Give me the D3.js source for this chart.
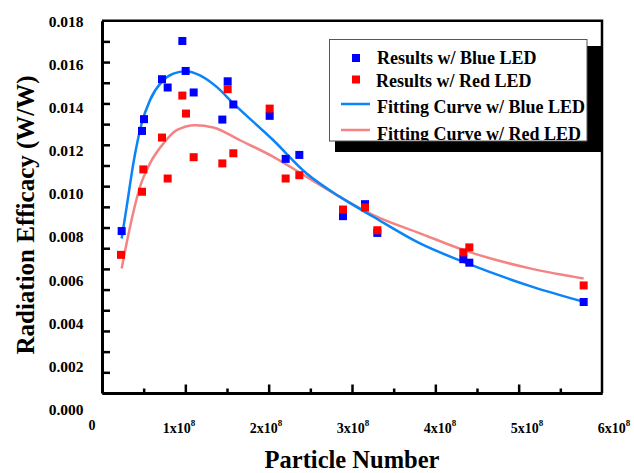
<!DOCTYPE html>
<html>
<head>
<meta charset="utf-8">
<script src="https://cdn.jsdelivr.net/npm/d3@7"></script>
<style>
    body { margin: 0; background: #fff; }
    text { font-family: "Liberation Serif", "Times New Roman", serif; font-weight: bold; fill: #000; }
</style>
</head>
<body>
<svg id="chart" width="634" height="473"></svg>
<script>
// Measured points (particle number, radiation efficacy W/W)
const blueX = [0.236e8, 0.48e8, 0.504e8, 0.72e8, 0.788e8, 0.964e8, 1.004e8, 1.10e8, 1.444e8, 1.508e8,
               1.576e8, 2.012e8, 2.204e8, 2.368e8, 2.892e8, 3.156e8, 3.304e8, 4.336e8, 4.408e8, 5.78e8];
const blueY = [0.00783, 0.01267, 0.01324, 0.01517, 0.01477, 0.01702, 0.01557, 0.01453, 0.01322, 0.01507,
               0.01395, 0.0134, 0.01132, 0.01151, 0.00855, 0.00913, 0.00774, 0.00647, 0.0063, 0.0044];

const redX = [0.228e8, 0.48e8, 0.496e8, 0.72e8, 0.788e8, 0.964e8, 1.008e8, 1.10e8, 1.444e8, 1.508e8,
              1.576e8, 2.012e8, 2.204e8, 2.368e8, 2.892e8, 3.156e8, 3.304e8, 4.336e8, 4.408e8, 5.78e8];
const redY = [0.00668, 0.00973, 0.01081, 0.01235, 0.01037, 0.01438, 0.01351, 0.0114, 0.0111, 0.01469,
              0.01159, 0.01375, 0.01037, 0.01053, 0.00887, 0.00897, 0.00787, 0.0068, 0.00704, 0.0052];

// Fitting curves
const blueFitX = [0.236e8, 0.296e8, 0.376e8, 0.476e8, 0.576e8, 0.716e8, 0.856e8, 1.004e8, 1.176e8, 1.376e8,
                  1.576e8, 2.056e8, 2.456e8, 2.856e8, 3.256e8, 3.816e8, 4.376e8, 5.176e8, 5.78e8];
const blueFitY = [0.00747, 0.0090, 0.0111, 0.01303, 0.01416, 0.01504, 0.01544, 0.01556, 0.01536, 0.0148,
                  0.0140, 0.01222, 0.01061, 0.00948, 0.00852, 0.00723, 0.00628, 0.00512, 0.00441];

const redFitX = [0.236e8, 0.336e8, 0.456e8, 0.576e8, 0.736e8, 0.896e8, 1.116e8, 1.336e8, 1.656e8, 2.056e8,
                 2.456e8, 2.856e8, 3.256e8, 3.816e8, 4.376e8, 5.176e8, 5.78e8];
const redFitY = [0.00602, 0.00803, 0.00997, 0.0111, 0.01206, 0.01271, 0.01295, 0.01284, 0.01222, 0.01142,
                 0.01045, 0.00948, 0.0086, 0.00772, 0.00686, 0.00599, 0.00554];

const yTickValues = [0, 0.002, 0.004, 0.006, 0.008, 0.010, 0.012, 0.014, 0.016, 0.018];
const xTickValues = [1e8, 2e8, 3e8, 4e8, 5e8, 6e8];
const legendLabels = ["Results w/ Blue LED", "Results w/ Red LED", "Fitting Curve w/ Blue LED", "Fitting Curve w/ Red LED"];

const blueMark = "#0000ff", redMark = "#ff0000";
const blueFit = "#0a84f7", redFit = "#f48484";

const svg = d3.select("#chart");

// Plot area
const plotLeft = 102, plotRight = 602, plotTop = 20.7, plotBottom = 393;
const x = d3.scaleLinear().domain([0, 6e8]).range([plotLeft, plotRight]);
const y = d3.scaleLinear().domain([0, 0.018]).range([plotBottom, plotTop]);

// tick labels in the original drift away from their ticks, so they get their own scales
const xLabel = d3.scaleLinear().domain([0, 6e8]).range([92, 614]);
const yLabel = d3.scaleLinear().domain([0, 0.018]).range([409.5, 21.5]);

// Frame (top and right borders)
svg.append("path")
    .attr("d", `M${plotLeft},${plotTop}H${plotRight}V${plotBottom}`)
    .attr("fill", "none")
    .attr("stroke", "#000")
    .attr("stroke-width", 2.5);

// Bottom axis: inward ticks, major every 1e8 and minor every 0.5e8
svg.append("g")
    .attr("transform", `translate(0,${plotBottom})`)
    .call(d3.axisBottom(x).tickValues(d3.range(0.5e8, 6e8, 1e8)).tickSizeInner(-4.5).tickSizeOuter(0).tickFormat(""));
svg.append("g")
    .attr("transform", `translate(0,${plotBottom})`)
    .call(d3.axisBottom(x).tickValues(d3.range(1e8, 6e8, 1e8)).tickSizeInner(-8.5).tickSizeOuter(0).tickFormat(""));

// Left axis: inward ticks every 0.001
svg.append("g")
    .attr("transform", `translate(${plotLeft},0)`)
    .call(d3.axisLeft(y).tickValues(d3.range(1, 18).map(d => d / 1000)).tickSizeInner(-8).tickSizeOuter(0).tickFormat(""));

svg.selectAll(".domain").attr("stroke", "#000").attr("stroke-width", 3);
svg.selectAll(".tick line").attr("stroke", "#000").attr("stroke-width", 2.5);

// Y tick labels
svg.selectAll(".ylab")
    .data(yTickValues)
    .enter().append("text")
    .attr("class", "ylab")
    .attr("x", 83.5)
    .attr("y", d => yLabel(d))
    .attr("dy", "0.35em")
    .attr("text-anchor", "end")
    .style("font-size", "15.5px")
    .text(d => d.toFixed(3));

// X tick labels, written as "n x 10^8"
svg.append("text")
    .attr("x", xLabel(0))
    .attr("y", 430)
    .attr("text-anchor", "middle")
    .style("font-size", "14px")
    .text("0");

const xl = svg.selectAll(".xlab")
    .data(xTickValues)
    .enter().append("text")
    .attr("class", "xlab")
    .attr("x", d => xLabel(d))
    .attr("y", 433)
    .attr("text-anchor", "middle")
    .style("font-size", "14px");
xl.append("tspan").text(d => `${d / 1e8}x10`);
xl.append("tspan").attr("dy", -7).style("font-size", "9px").text("8");

// Axis titles
svg.append("text")
    .attr("x", 352)
    .attr("y", 468)
    .attr("text-anchor", "middle")
    .style("font-size", "24.5px")
    .text("Particle Number");

svg.append("text")
    .attr("transform", "translate(34,215) rotate(-90)")
    .attr("text-anchor", "middle")
    .style("font-size", "25px")
    .text("Radiation Efficacy (W/W)");

// Fitting curves
const line = d3.line()
    .x(d => x(d[0]))
    .y(d => y(d[1]))
    .curve(d3.curveMonotoneX);

svg.append("path")
    .datum(d3.zip(redFitX, redFitY))
    .attr("d", line)
    .attr("fill", "none")
    .attr("stroke", redFit)
    .attr("stroke-width", 2.5);

svg.append("path")
    .datum(d3.zip(blueFitX, blueFitY))
    .attr("d", line)
    .attr("fill", "none")
    .attr("stroke", blueFit)
    .attr("stroke-width", 2.5);

// Data markers (blue first, red drawn on top)
const size = 8;
svg.selectAll(".blue")
    .data(d3.zip(blueX, blueY))
    .enter().append("rect")
    .attr("class", "blue")
    .attr("x", d => x(d[0]) - size / 2)
    .attr("y", d => y(d[1]) - size / 2)
    .attr("width", size)
    .attr("height", size)
    .attr("fill", blueMark);

svg.selectAll(".red")
    .data(d3.zip(redX, redY))
    .enter().append("rect")
    .attr("class", "red")
    .attr("x", d => x(d[0]) - size / 2)
    .attr("y", d => y(d[1]) - size / 2)
    .attr("width", size)
    .attr("height", size)
    .attr("fill", redMark);

// Legend with its black drop shadow
svg.append("rect")
    .attr("x", 335).attr("y", 46)
    .attr("width", 267).attr("height", 106)
    .attr("fill", "#000");

svg.append("rect")
    .attr("x", 329.5).attr("y", 39.5)
    .attr("width", 257.5).attr("height", 101.5)
    .attr("fill", "#fff")
    .attr("stroke", "#555")
    .attr("stroke-width", 1);

svg.append("clipPath").attr("id", "legclip")
    .append("rect")
    .attr("x", 330).attr("y", 40)
    .attr("width", 257).attr("height", 100.5);

const leg = svg.append("g").attr("clip-path", "url(#legclip)");
const rowY = [58, 79.5, 104, 130];
const baseY = [64, 86.5, 113, 140];

leg.append("rect").attr("x", 356 - size / 2).attr("y", rowY[0] - size / 2)
    .attr("width", size).attr("height", size).attr("fill", blueMark);
leg.append("rect").attr("x", 356 - size / 2).attr("y", rowY[1] - size / 2)
    .attr("width", size).attr("height", size).attr("fill", redMark);
leg.append("line").attr("x1", 341).attr("x2", 370).attr("y1", rowY[2]).attr("y2", rowY[2])
    .attr("stroke", blueFit).attr("stroke-width", 2.5);
leg.append("line").attr("x1", 341).attr("x2", 370).attr("y1", rowY[3]).attr("y2", rowY[3])
    .attr("stroke", redFit).attr("stroke-width", 2.5);

leg.selectAll(".legtext")
    .data(legendLabels)
    .enter().append("text")
    .attr("class", "legtext")
    .attr("x", (d, i) => i === 1 ? 376 : 377)
    .attr("y", (d, i) => baseY[i])
    .style("font-size", "18px")
    .text(d => d);
</script>
</body>
</html>
